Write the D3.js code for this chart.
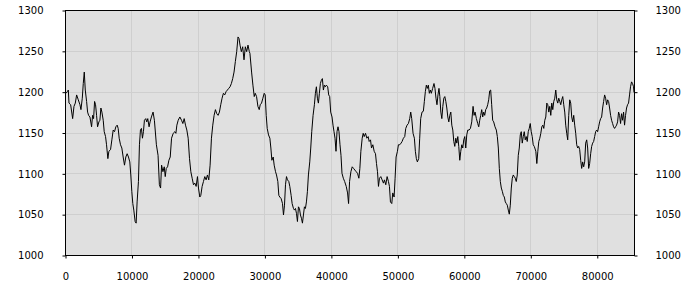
<!DOCTYPE html>
<html>
<head>
<meta charset="utf-8">
<script src="https://cdn.jsdelivr.net/npm/d3@7"></script>
<style>
  body { margin: 0; background: #fff; }
  .axis text { font-family: "DejaVu Sans", sans-serif; font-size: 10px; fill: #000; }
  .axis path, .axis line { stroke: #000; }
  .grid line { stroke: #cfcfcf; }
</style>
</head>
<body>
<svg id="chart"></svg>
<script>
// sample positions (x) and readings (y)
const xValues = [
  0, 150, 350, 500, 600, 850, 1150, 1350, 1550, 1750, 2000, 2250, 2400, 2600, 2750, 2900, 3050, 3250, 3400, 3550,
  3750, 4000, 4150, 4300, 4450, 4600, 4750, 4900, 5100, 5250, 5400, 5550, 5750, 5900, 6100, 6250, 6450, 6600, 6850, 7050,
  7250, 7450, 7650, 7850, 8000, 8150, 8350, 8550, 8750, 8950, 9150, 9350, 9550, 9750, 9900, 10050, 10200, 10350, 10550, 10700,
  10850, 11050, 11200, 11350, 11500, 11650, 11800, 11950, 12150, 12300, 12450, 12650, 12800, 13000, 13250, 13450, 13750, 14000, 14200,
  14380, 14530, 14730, 14930, 15080, 15230, 15430, 15630, 15830, 16030, 16280, 16530, 16680, 16830, 17030, 17280, 17530, 17730, 17930,
  18130, 18330, 18530, 18730, 18930, 19130, 19330, 19530, 19730, 19930, 20080, 20280, 20430, 20630, 20830, 21030, 21230, 21430, 21630,
  21830, 22030, 22230, 22430, 22630, 22830, 23030, 23230, 23430, 23630, 23830, 24030, 24230, 24430, 24630, 24830, 25030, 25230, 25430,
  25630, 25830, 26030, 26180, 26330, 26530, 26730, 26930, 27130, 27330, 27530, 27730,
  27820, 28070, 28270, 28470, 28620, 28820, 29020, 29220, 29370, 29570, 29770, 29970, 30120, 30270, 30420, 30620, 30820, 30970, 31120,
  31320, 31470, 31670, 31820, 32020, 32170, 32320, 32520, 32720, 32870, 33020, 33170, 33320, 33470, 33670, 33820, 34020, 34170, 34370,
  34520, 34670, 34820, 34970, 35120, 35270, 35420, 35570, 35720, 35870, 36020, 36170, 36320, 36470, 36620, 36820, 36970, 37120, 37320,
  37520, 37670, 37820, 37970, 38120, 38270, 38420, 38570, 38720, 38870, 39020, 39170, 39320, 39520, 39670, 39820, 39970, 40170, 40320,
  40470, 40620, 40770, 40920, 41070, 41220, 41370, 41520, 41670, 41870, 42070,
  42310, 42510, 42660, 42810, 43010, 43210, 43410, 43610, 43810, 44010, 44210, 44360, 44510, 44710, 44860, 45010, 45210, 45410, 45610,
  45760, 45960, 46110, 46310, 46510, 46710, 46860, 47010, 47160, 47310, 47510, 47710, 47910, 48060, 48260, 48460, 48660, 48810, 48960,
  49160, 49310, 49510, 49660, 49810, 50010, 50160, 50360, 50560, 50710, 50910, 51110, 51260, 51460, 51660, 51860, 52010, 52160, 52360,
  52560, 52710, 52860, 53010, 53210, 53360, 53510, 53710, 53910, 54060, 54210, 54360, 54510, 54660, 54810, 54960, 55110, 55310, 55510,
  55660, 55810, 55960, 56110, 56260,
  56390, 56540, 56690, 56840, 56990, 57140, 57290, 57440, 57590, 57740, 57890, 58040, 58190, 58340, 58490, 58640, 58790, 58940, 59090,
  59240, 59390, 59540, 59690, 59840, 59990, 60140, 60290, 60440, 60590, 60790, 60990, 61190, 61390, 61540, 61690, 61890, 62090, 62240,
  62390, 62540, 62690, 62840, 62990, 63140, 63290, 63440, 63590, 63740, 63890, 64040, 64190, 64340, 64490, 64690, 64890, 65040, 65190,
  65340, 65490, 65640, 65790, 65940, 66090, 66240, 66390, 66540, 66690, 66840, 66990, 67140, 67290, 67440, 67590, 67740, 67890, 68040,
  68190, 68340, 68490, 68640, 68790, 68940, 69090, 69240, 69390, 69540, 69690, 69840, 69990, 70140, 70290, 70440, 70590,
  70680, 70830, 70980, 71130, 71280, 71430, 71580, 71730, 71880, 72030, 72180, 72330, 72480, 72630, 72780, 72930, 73080, 73230, 73380,
  73530, 73680, 73830, 73980, 74130, 74280, 74430, 74580, 74730, 74880, 75030, 75180, 75330, 75480, 75630, 75780, 75930, 76080, 76230,
  76380, 76530, 76680, 76830, 76980, 77130, 77280, 77430, 77580, 77730, 77880, 78030, 78180, 78330, 78480, 78630, 78780, 78930, 79080,
  79230, 79380, 79530, 79680, 79830, 79980, 80130, 80280, 80430, 80580, 80730, 80880, 81030, 81180, 81330, 81480, 81630, 81780, 81930,
  82080, 82230, 82380, 82530, 82680, 82830, 82980, 83130, 83280, 83430, 83580, 83730, 83880, 84030, 84180, 84330, 84480, 84630, 84780,
  84930, 85080, 85230, 85380, 85530, 85600
];

const yValues = [
  1198, 1198, 1200, 1202, 1186, 1184, 1167, 1182, 1186, 1196, 1190, 1184, 1178, 1192, 1210, 1224, 1202, 1188, 1175, 1171,
  1169, 1157, 1171, 1167, 1188, 1184, 1171, 1157, 1163, 1165, 1180, 1175, 1165, 1151, 1145, 1135, 1118, 1127, 1129, 1141,
  1153, 1151, 1157, 1159, 1155, 1143, 1135, 1131, 1120, 1110, 1120, 1124, 1120, 1114, 1098, 1078, 1063, 1055, 1041, 1039,
  1065, 1090, 1135, 1153, 1155, 1143, 1151, 1165, 1167, 1163, 1167, 1157, 1163, 1169, 1175, 1165, 1135, 1122, 1086,
  1082, 1110, 1102, 1108, 1096, 1106, 1108, 1116, 1120, 1143, 1149, 1151, 1149, 1159, 1165, 1169, 1165, 1161, 1167,
  1159, 1153, 1143, 1118, 1102, 1094, 1086, 1088, 1084, 1096, 1082, 1071, 1073, 1084, 1090, 1096, 1092, 1098, 1092,
  1110, 1143, 1159, 1171, 1178, 1173, 1171, 1175, 1184, 1192, 1198, 1196, 1200, 1202, 1204, 1206, 1210, 1216, 1224,
  1237, 1249, 1267, 1265, 1257, 1249, 1255, 1239, 1255, 1249, 1257, 1249,
  1247, 1224, 1208, 1194, 1198, 1194, 1182, 1178, 1184, 1186, 1192, 1198, 1196, 1171, 1155, 1147, 1143, 1131, 1116,
  1120, 1110, 1102, 1098, 1090, 1073, 1071, 1069, 1063, 1049, 1061, 1086, 1096, 1092, 1090, 1084, 1073, 1063, 1057,
  1055, 1057, 1051, 1041, 1059, 1057, 1049, 1045, 1039, 1049, 1059, 1057, 1065, 1078, 1098, 1114, 1131, 1151, 1171,
  1184, 1198, 1206, 1192, 1186, 1198, 1210, 1214, 1216, 1202, 1208, 1206, 1208, 1206, 1196, 1194, 1175, 1169, 1159,
  1151, 1143, 1127, 1151, 1157, 1151, 1135, 1122, 1100, 1094, 1090,
  1084, 1076, 1063, 1090, 1102, 1108, 1106, 1104, 1102, 1100, 1094, 1106, 1127, 1143, 1149, 1145, 1149, 1143, 1145,
  1139, 1141, 1131, 1135, 1127, 1124, 1112, 1102, 1084, 1094, 1096, 1092, 1088, 1092, 1086, 1096, 1090, 1084, 1065,
  1063, 1076, 1071, 1094, 1120, 1127, 1135, 1135, 1137, 1139, 1143, 1145, 1155, 1159, 1161, 1167, 1175, 1167, 1149,
  1143, 1127, 1118, 1114, 1118, 1143, 1167, 1175, 1176, 1188, 1200, 1208, 1204, 1208, 1198, 1202, 1198, 1204, 1210,
  1204, 1192, 1184, 1196, 1204,
  1194, 1175, 1167, 1182, 1192, 1194, 1188, 1180, 1169, 1163, 1171, 1175, 1159, 1153, 1139, 1133, 1143, 1137, 1145,
  1133, 1116, 1127, 1135, 1131, 1141, 1145, 1131, 1147, 1153, 1153, 1155, 1163, 1182, 1171, 1175, 1167, 1161, 1157,
  1165, 1171, 1178, 1169, 1175, 1171, 1178, 1180, 1184, 1190, 1201, 1202, 1184, 1165, 1163, 1157, 1153, 1145, 1131,
  1106, 1090, 1082, 1078, 1073, 1071, 1065, 1063, 1061, 1055, 1050, 1061, 1082, 1094, 1098, 1096, 1094, 1090, 1098,
  1122, 1131, 1147, 1151, 1137, 1145, 1151, 1141, 1145, 1139, 1151, 1155, 1161, 1151, 1145, 1135, 1133,
  1131, 1127, 1112, 1127, 1139, 1143, 1149, 1157, 1159, 1155, 1165, 1169, 1186, 1184, 1175, 1182, 1171, 1186, 1178,
  1188, 1192, 1202, 1190, 1186, 1192, 1188, 1184, 1190, 1194, 1184, 1175, 1159, 1149, 1141, 1171, 1190, 1186, 1169,
  1163, 1171, 1159, 1149, 1135, 1131, 1133, 1129, 1116, 1106, 1114, 1108, 1114, 1137, 1141, 1131, 1106, 1112, 1124,
  1133, 1137, 1139, 1145, 1151, 1153, 1151, 1157, 1163, 1167, 1169, 1180, 1188, 1196, 1192, 1184, 1190, 1188, 1180,
  1171, 1165, 1161, 1157, 1155, 1157, 1159, 1163, 1175, 1171, 1161, 1173, 1165, 1175, 1159, 1171, 1180, 1184, 1186,
  1196, 1206, 1212, 1210, 1206, 1199
];

const xTicks = [0, 10000, 20000, 30000, 40000, 50000, 60000, 70000, 80000];
const yTicks = [1000, 1050, 1100, 1150, 1200, 1250, 1300];

const width = 700, height = 300;
const margin = {top: 10, right: 66, bottom: 45, left: 65};
const innerW = width - margin.left - margin.right;
const innerH = height - margin.top - margin.bottom;

const data = xValues.map((x, i) => ({x: x, y: yValues[i]}));

const svg = d3.select('#chart')
    .attr('width', width)
    .attr('height', height);

const chart = svg.append('g')
    .attr('transform', `translate(${margin.left},${margin.top})`);

const xScale = d3.scaleLinear().domain([0, 85600]).range([0, innerW]);
const yScale = d3.scaleLinear().domain([1000, 1300]).range([innerH, 0]);

// plot background
chart.append('rect')
    .attr('width', innerW)
    .attr('height', innerH)
    .attr('fill', '#e0e0e0');

// grid lines
chart.append('g')
    .attr('class', 'grid')
    .selectAll('line.v')
    .data(xTicks.slice(1))
    .join('line')
    .attr('x1', d => Math.round(xScale(d)) + 0.5)
    .attr('x2', d => Math.round(xScale(d)) + 0.5)
    .attr('y1', 0)
    .attr('y2', innerH);

chart.append('g')
    .attr('class', 'grid')
    .selectAll('line.h')
    .data(yTicks.slice(1, -1))
    .join('line')
    .attr('x1', 0)
    .attr('x2', innerW)
    .attr('y1', d => Math.round(yScale(d)) + 0.5)
    .attr('y2', d => Math.round(yScale(d)) + 0.5);

// the series
const line = d3.line()
    .x(d => xScale(d.x))
    .y(d => yScale(d.y));

chart.append('path')
    .datum(data)
    .attr('fill', 'none')
    .attr('stroke', '#000')
    .attr('stroke-width', 1)
    .attr('stroke-linejoin', 'miter')
    .attr('d', line);

// frame
chart.append('rect')
    .attr('x', 0.5)
    .attr('y', 0.5)
    .attr('width', innerW)
    .attr('height', innerH)
    .attr('fill', 'none')
    .attr('stroke', '#000');

// axes
const fmt = d3.format('d');
const xAxis = d3.axisBottom(xScale).tickValues(xTicks).tickFormat(fmt).tickSize(3).tickPadding(14).tickSizeOuter(0);
const yAxisL = d3.axisLeft(yScale).tickValues(yTicks).tickFormat(fmt).tickSize(3).tickPadding(19).tickSizeOuter(0);
const yAxisR = d3.axisRight(yScale).tickValues(yTicks).tickFormat(fmt).tickSize(3).tickPadding(18).tickSizeOuter(0);

chart.append('g')
    .attr('class', 'axis x-axis')
    .attr('transform', `translate(0.5,${innerH + 0.5})`)
    .call(xAxis)
    .call(g => g.select('.domain').remove());

chart.append('g')
    .attr('class', 'axis y-axis')
    .attr('transform', 'translate(0.5,0.5)')
    .call(yAxisL)
    .call(g => g.select('.domain').remove());

chart.append('g')
    .attr('class', 'axis y-axis')
    .attr('transform', `translate(${innerW + 0.5},0.5)`)
    .call(yAxisR)
    .call(g => g.select('.domain').remove());
</script>
</body>
</html>
